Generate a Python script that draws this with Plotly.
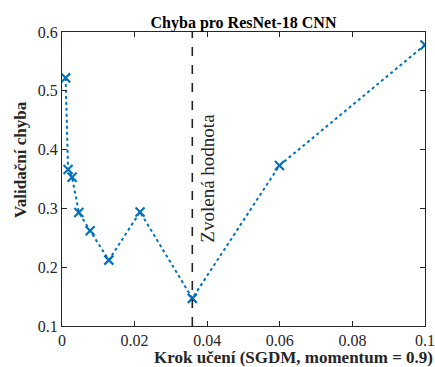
import plotly.graph_objects as go

# Learning rates tested (SGDM) and resulting validation error
learning_rates = [0.001, 0.00167, 0.00278, 0.00464, 0.00774, 0.0129, 0.0215, 0.0359, 0.0599, 0.1]
val_error = [0.522, 0.366, 0.353, 0.293, 0.262, 0.212, 0.294, 0.147, 0.373, 0.578]
chosen_rate = 0.0359
x_ticks = [0, 0.02, 0.04, 0.06, 0.08, 0.1]
x_tick_text = ["0", "0.02", "0.04", "0.06", "0.08", "0.1"]
y_ticks = [0.1, 0.2, 0.3, 0.4, 0.5, 0.6]
y_tick_text = ["0.1", "0.2", "0.3", "0.4", "0.5", "0.6"]

serif = "Liberation Serif, Times New Roman, serif"
axis_col = "#262626"
blue = "#0072BD"

fig = go.Figure()
fig.add_trace(go.Scatter(
    x=learning_rates, y=val_error, mode="lines+markers",
    line=dict(color=blue, width=2, dash="dot"),
    marker=dict(symbol="x-thin", size=9, line=dict(color=blue, width=2.2), color=blue),
    showlegend=False,
))

# Vertical marker for the selected learning rate
fig.add_shape(type="line", x0=chosen_rate, x1=chosen_rate, y0=0.1, y1=0.6,
              xref="x", yref="y", line=dict(color="#222222", width=1.6, dash="dash"))

fig.add_annotation(x=chosen_rate, y=0.352, xref="x", yref="y", text="Zvolená hodnota",
                   textangle=-90, showarrow=False, xanchor="left", xshift=3,
                   font=dict(family=serif, size=19, color=axis_col))

axis_common = dict(showline=True, linecolor=axis_col, linewidth=1, mirror="ticks",
                   ticks="inside", ticklen=5, tickcolor=axis_col, tickwidth=1,
                   showgrid=False, zeroline=False, automargin=False,
                   ticklabeloverflow="allow",
                   tickfont=dict(family=serif, size=16, color=axis_col))

fig.update_xaxes(range=[0, 0.1], tickvals=x_ticks, ticktext=x_tick_text, **axis_common)
fig.update_yaxes(range=[0.1, 0.6], tickvals=y_ticks, ticktext=y_tick_text, **axis_common)

# Axis labels
fig.add_annotation(x=0.639, y=0, xref="paper", yref="paper", yshift=-31,
                   text="<b>Krok učení (SGDM, momentum = 0.9)</b>", showarrow=False,
                   xanchor="center", yanchor="middle",
                   font=dict(family=serif, size=17, color=axis_col))
fig.add_annotation(x=0, y=0.565, xref="paper", yref="paper", xshift=-41,
                   text="<b>Validační chyba</b>", showarrow=False, textangle=-90,
                   xanchor="center", yanchor="middle",
                   font=dict(family=serif, size=17, color=axis_col))

fig.update_layout(
    width=435, height=367,
    margin=dict(l=62, r=10, t=32, b=41),
    plot_bgcolor="white", paper_bgcolor="white",
    title=dict(text="<b>Chyba pro ResNet-18 CNN</b>", x=0.5, xref="paper",
               y=1, yref="paper", yanchor="bottom", pad=dict(b=4),
               font=dict(family=serif, size=16, color="#000000")),
)

fig.write_html("out.html")
